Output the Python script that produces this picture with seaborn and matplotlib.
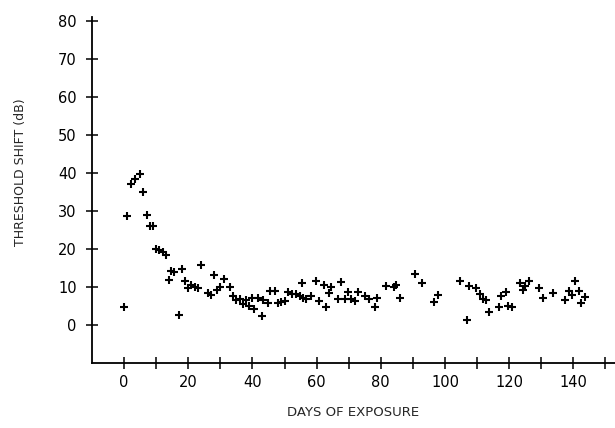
import matplotlib
matplotlib.use("Agg")
import matplotlib.pyplot as plt
import seaborn as sns
import pandas as pd

# values
days = [0, 1, 2, 3.5, 5, 6, 7, 8, 9, 10, 11, 12, 13, 14, 14.5, 15.5, 17, 18, 19, 20,
        21, 22, 23, 24, 26, 27, 28, 29, 30, 31, 33, 34, 35, 36, 37, 38, 39, 40, 40.4, 41.7,
        43.1, 43.3, 44.9, 45.6, 46.9, 48, 49, 50.1, 51.1, 52.2, 53.7, 54.7, 55.6, 55.8, 56.8,
        58.4, 59.9, 60.8, 62.2, 62.8, 63.8, 64.6, 66.7, 67.7, 68.8, 69.8, 70.8, 71.9, 72.9,
        75.0, 76.3, 78.1, 78.9, 81.7, 84.0, 84.9, 85.9, 90.6, 93.0, 96.6, 97.8, 104.6, 107.0,
        107.5, 109.8, 110.8, 111.8, 112.9, 113.7, 116.7, 117.6, 118.9, 119.6, 121.0, 123.3,
        124.3, 124.8, 126.2, 129.3, 130.7, 133.6, 137.5, 138.6, 139.7, 140.6, 141.7, 142.5,
        143.5]
shift_db = [4.8, 28.7, 37.2, 38.3, 39.6, 35.1, 29.0, 26.1, 26.1, 20.0, 19.6, 19.1, 18.3,
            11.7, 14.3, 13.8, 2.5, 14.7, 11.6, 9.8, 10.4, 10.0, 9.7, 15.8, 8.4, 7.8, 13.2,
            9.2, 10.1, 12.0, 10.1, 7.6, 6.5, 6.8, 5.5, 6.5, 5.0, 7.0, 4.2, 7.2, 2.3, 6.5, 5.7,
            8.8, 8.8, 5.7, 6.1, 6.3, 8.7, 8.1, 8.2, 7.6, 11.0, 7.2, 6.7, 7.6, 11.6, 6.4, 10.4,
            4.6, 8.4, 10.0, 6.7, 11.3, 6.7, 8.7, 6.9, 6.4, 8.7, 7.6, 6.7, 4.6, 7.2, 10.2, 10.0,
            10.4, 7.2, 13.3, 11.0, 6.1, 7.8, 11.5, 1.3, 10.2, 9.8, 8.1, 6.7, 6.5, 3.5, 4.6,
            7.6, 8.7, 5.0, 4.6, 11.1, 9.1, 10.2, 11.6, 9.6, 7.2, 8.5, 6.5, 8.9, 7.8, 11.5, 9.0,
            5.8, 7.4]

x_ticks = list(range(0, 151, 10))
x_labels = [str(t) if t % 20 == 0 and t <= 140 else "" for t in x_ticks]
y_ticks = list(range(0, 81, 10))

df = pd.DataFrame({"day": days, "shift": shift_db})

sns.set_style("ticks")
plt.rcParams["font.family"] = ["DejaVu Sans"]

fig = plt.figure(figsize=(6.15, 4.28), dpi=100)
ax = fig.add_axes([0.1496, 0.152, 0.8504, 0.808])

sns.scatterplot(data=df, x="day", y="shift", marker="+", color="black",
                s=38, linewidth=1.5, ax=ax, clip_on=False)

ax.set_xlim(-10, 153)
ax.set_ylim(-10, 81)
ax.set_xticks(x_ticks)
ax.set_xticklabels(x_labels)
ax.set_yticks(y_ticks)
ax.tick_params(axis="both", direction="inout", length=8, width=1.1,
               labelsize=10.5, colors="black")
ax.tick_params(axis="x", pad=5)
ax.tick_params(axis="y", pad=7)

sns.despine(ax=ax, top=True, right=True)
for side in ["left", "bottom"]:
    ax.spines[side].set_linewidth(1.3)
    ax.spines[side].set_color("black")

ax.set_xlabel("DAYS OF EXPOSURE", fontsize=9.5)
ax.set_ylabel("THRESHOLD SHIFT (dB)", fontsize=9)
ax.xaxis.set_label_coords(0.5, -0.125)
ax.yaxis.set_label_coords(-0.125, 0.553)

fig.savefig("out.png", dpi=100)
plt.close(fig)
